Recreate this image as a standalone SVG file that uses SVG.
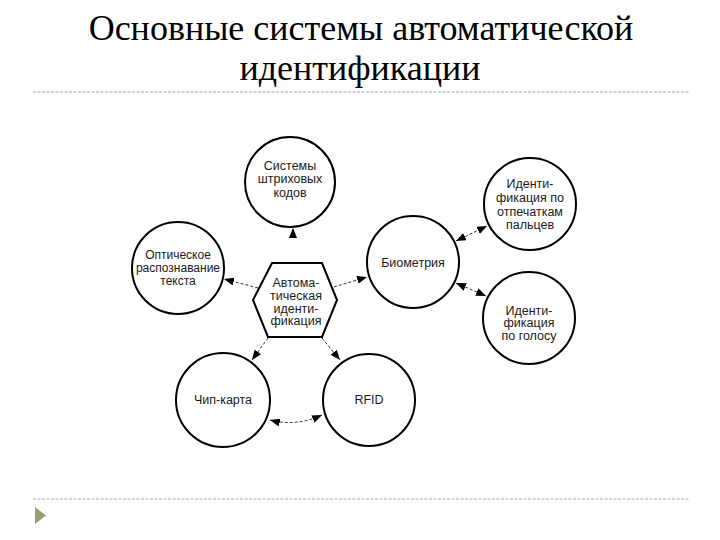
<svg xmlns="http://www.w3.org/2000/svg" width="720" height="540" viewBox="0 0 720 540">
<defs>
<style>
.title{font-family:"Liberation Serif","Times New Roman",serif;font-size:36px;fill:#000;text-anchor:middle}
.node{fill:#fff;stroke:#000;stroke-width:2}
.lbl{font-family:"Liberation Sans",Arial,sans-serif;font-size:12.5px;fill:#1a1a1a;text-anchor:middle}
.sm{font-size:12px}
.sep{stroke:#a8a8a8;stroke-width:1;stroke-dasharray:3 1.5;fill:none}
.conn{stroke:#333;stroke-width:1;stroke-dasharray:3 2;fill:none}
</style>
<marker id="ah" viewBox="0 0 10 8" refX="10" refY="4" markerWidth="10" markerHeight="8" markerUnits="userSpaceOnUse" orient="auto-start-reverse">
<path d="M0,0 L10,4 L0,8 z" fill="#000"/>
</marker>
</defs>
<rect width="720" height="540" fill="#fff"/>
<g id="title">
<text class="title" x="361" y="40">Основные системы автоматической</text>
<text class="title" x="360" y="80">идентификации</text>
</g>
<line class="sep" x1="33" y1="92" x2="690" y2="92"/>
<line class="sep" x1="33" y1="499" x2="690" y2="499"/>
<polygon points="35,507 46,515.5 35,524" fill="#8fa26a"/>
<g id="connectors">
<path class="conn" d="M258,288 L224,279" marker-end="url(#ah)"/>
<path class="conn" d="M334,287 L367,277" marker-end="url(#ah)"/>
<path class="conn" d="M293,237 L293,228" marker-end="url(#ah)"/>
<path class="conn" d="M268,338 L252,360" marker-end="url(#ah)"/>
<path class="conn" d="M322,338 L340,360" marker-end="url(#ah)"/>
<path class="conn" d="M456,241 L487,226" marker-start="url(#ah)" marker-end="url(#ah)"/>
<path class="conn" d="M456,283 L486,296" marker-start="url(#ah)" marker-end="url(#ah)"/>
<path class="conn" d="M270,420 Q296,427 322,415" marker-start="url(#ah)" marker-end="url(#ah)"/>
</g>
<g id="n-hex">
<polygon class="node" points="272,263 322,263 337,300 322,337 268,337 253,300"/>
<text class="lbl" x="296" y="286.5">Автома-</text>
<text class="lbl" x="296" y="299.5">тическая</text>
<text class="lbl" x="296" y="312.5">иденти-</text>
<text class="lbl" x="296" y="325">фикация</text>
</g>
<g id="n-barcode">
<circle class="node" cx="290" cy="182" r="45"/>
<text class="lbl" x="290" y="169.5">Системы</text>
<text class="lbl" x="290" y="183">штриховых</text>
<text class="lbl" x="290" y="196.5">кодов</text>
</g>
<g id="n-ocr">
<circle class="node" cx="178" cy="268" r="46"/>
<text class="lbl sm" x="178" y="258.5">Оптическое</text>
<text class="lbl sm" x="178" y="271.5">распознавание</text>
<text class="lbl sm" x="178" y="284.5">текста</text>
</g>
<g id="n-bio">
<circle class="node" cx="413" cy="262" r="46"/>
<text class="lbl" x="413" y="266.5">Биометрия</text>
</g>
<g id="n-finger">
<circle class="node" cx="530" cy="204" r="46"/>
<text class="lbl" x="530" y="188">Иденти-</text>
<text class="lbl" x="530" y="202">фикация по</text>
<text class="lbl" x="530" y="215.5">отпечаткам</text>
<text class="lbl" x="530" y="229">пальцев</text>
</g>
<g id="n-voice">
<circle class="node" cx="529" cy="318" r="46"/>
<text class="lbl" x="529" y="314.5">Иденти-</text>
<text class="lbl" x="529" y="327">фикация</text>
<text class="lbl" x="529" y="339.5">по голосу</text>
</g>
<g id="n-chip">
<circle class="node" cx="223" cy="400" r="47"/>
<text class="lbl" x="223" y="404">Чип-карта</text>
</g>
<g id="n-rfid">
<circle class="node" cx="369" cy="400" r="46"/>
<text class="lbl" x="369" y="404">RFID</text>
</g>
</svg>
